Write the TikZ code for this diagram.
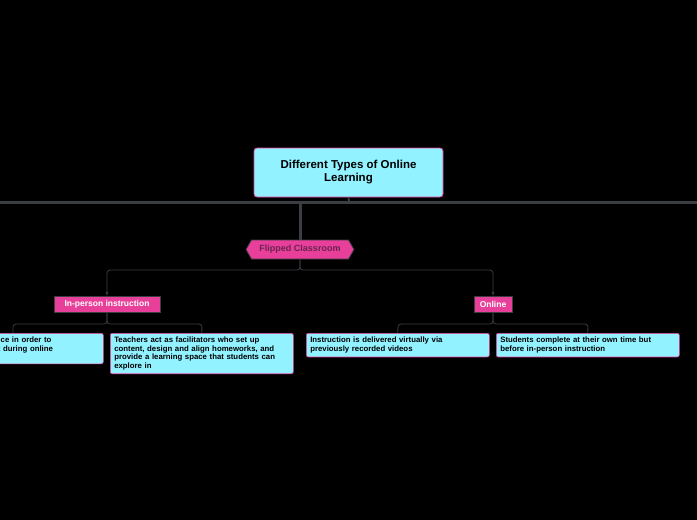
\documentclass[tikz,border=0pt]{standalone}
\usepackage{fontspec}
\setmainfont{Liberation Sans}
\usetikzlibrary{shapes.symbols,arrows.meta}
\definecolor{cyanbox}{HTML}{92F2FF}
\definecolor{magbox}{HTML}{E8409A}
\definecolor{linec}{HTML}{3A3D42}
\definecolor{darktxt}{HTML}{6A2450}
\tikzset{x=1pt,y=-1pt,
 leaf/.style={draw=magbox,fill=cyanbox,rounded corners=2pt,line width=0.6pt,font=\bfseries\fontsize{7.8}{8.4}\selectfont,align=left,inner sep=4pt,anchor=north west,text width=175pt},
 sub/.style={draw=linec,fill=magbox,line width=0.8pt,font=\bfseries\fontsize{8.5}{9}\selectfont,text=white,inner sep=2pt,minimum height=16pt},
 conn/.style={draw=linec,line width=0.8pt,rounded corners=3pt},
 arr/.style={conn,-{Stealth[length=4pt,width=3pt]}}}
\begin{document}
\begin{tikzpicture}
\fill[black] (0,0) rectangle (697,520);
\useasboundingbox (0,0) rectangle (697,520);
\clip (0,0) rectangle (697,520);
\draw[linec,line width=3pt] (0,202) -- (697,202);
\node[draw=magbox,fill=cyanbox,rounded corners=3pt,line width=0.8pt,minimum width=189pt,minimum height=49pt,align=center,font=\bfseries\fontsize{11.5}{13}\selectfont] (root) at (348.5,172.5) {Different Types of Online\\Learning};
\draw[linec,line width=2pt] (root.south) -- (349,202);
\node[signal,signal to=east and west,signal pointer angle=120,draw=linec,fill=magbox,line width=0.8pt,minimum width=108pt,minimum height=19pt,inner sep=1pt,text=darktxt,font=\bfseries\fontsize{9}{9}\selectfont] (fc) at (300,249.5) {Flipped Classroom};
\coordinate (bar) at (300,202);
\draw[linec,line width=3pt] (bar) -- (fc.north);
\node[sub,minimum width=106pt] (ip) at (107,304) {In-person instruction};
\node[sub,minimum width=38pt] (on) at (493,304) {Online};
\draw[arr] (fc.south) -- (300,270) -- (107,270) -- (ip.north);
\draw[arr] (fc.south) -- (300,270) -- (493,270) -- (on.north);
\node[leaf] (l1) at (-80,333) {\hspace*{14pt}practical experince in order to\\apply what is taught during online\\instruction.};
\node[leaf] (l2) at (110,333) {Teachers act as facilitators who set up\\content, design and align homeworks, and\\provide a learning space that students can\\explore in};
\node[leaf] (l3) at (306,333) {Instruction is delivered virtually via\\previously recorded videos};
\node[leaf] (l4) at (496,333) {Students complete at their own time but\\before in-person instruction};
\draw[conn] (ip.south) -- (107,324) -- (13,324) -- (13,333);
\draw[conn] (ip.south) -- (107,324) -- (202,324) -- (l2.north);
\draw[conn] (on.south) -- (493,324) -- (398,324) -- (l3.north);
\draw[conn] (on.south) -- (493,324) -- (588,324) -- (l4.north);
\end{tikzpicture}
\end{document}
